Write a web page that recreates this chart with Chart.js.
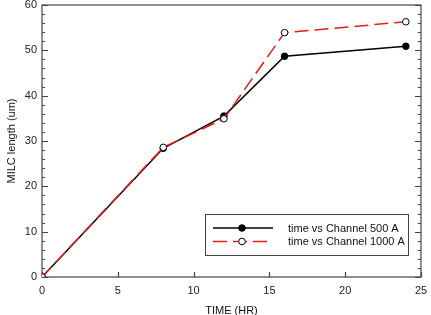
<!DOCTYPE html>
<html>
<head>
<meta charset="utf-8">
<script src="https://cdn.jsdelivr.net/npm/chart.js@4"></script>
<style>
  body { margin: 0; background: #fff; }
</style>
</head>
<body>
<canvas id="myChart" width="431" height="315"></canvas>
<script>
// data
const times = [0, 8, 12, 16, 24];
const ch500 = [0, 28.4, 35.5, 48.7, 50.9];
const ch1000 = [0, 28.6, 34.9, 53.9, 56.3];
const xTicks = [0, 5, 10, 15, 20, 25];
const yTicks = [0, 10, 20, 30, 40, 50, 60];

const ctx = document.getElementById('myChart').getContext('2d');
const font = 'Arial, "Liberation Sans", sans-serif';

function toPoints(xs, ys) {
    return xs.map((x, i) => ({ x: x, y: ys[i] }));
}

// inward ticks + frame, like the original plot
const frame = {
    id: 'frame',
    beforeDatasetsDraw(chart) {
        const c = chart.ctx, a = chart.chartArea;
        const xs = chart.scales.x, ys = chart.scales.y;
        c.save();
        c.strokeStyle = '#444';
        c.lineWidth = 1.2;
        c.strokeRect(a.left, a.top, a.right - a.left, a.bottom - a.top);
        c.beginPath();
        for (let v = 0; v <= 60; v += 2) {
            const y = Math.round(ys.getPixelForValue(v)) + 0.5;
            const len = v % 10 === 0 ? 6 : 3;
            c.moveTo(a.left, y); c.lineTo(a.left + len, y);
            c.moveTo(a.right, y); c.lineTo(a.right - len, y);
        }
        xTicks.forEach(v => {
            const x = Math.round(xs.getPixelForValue(v)) + 0.5;
            c.moveTo(x, a.bottom); c.lineTo(x, a.bottom - 5);
        });
        c.stroke();
        c.restore();
    }
};

// legend box inside the plot area
const boxLegend = {
    id: 'boxLegend',
    afterDraw(chart) {
        const c = chart.ctx, a = chart.chartArea;
        const w = 203, h = 41;
        const bx = a.right - 13 - w, by = a.bottom - 22 - h;
        c.save();
        c.fillStyle = '#fff';
        c.fillRect(bx, by, w, h);
        c.strokeStyle = '#444';
        c.lineWidth = 1;
        c.strokeRect(bx + 0.5, by + 0.5, w, h);
        [0, 1].forEach(i => {
            const ds = chart.data.datasets.find(d => d.legendIndex === i);
            const y = by + 14 + i * 13.5;
            c.strokeStyle = ds.borderColor;
            c.lineWidth = ds.borderWidth;
            c.setLineDash(ds.borderDash || []);
            c.beginPath();
            c.moveTo(bx + 8, y); c.lineTo(bx + 68, y);
            c.stroke();
            c.setLineDash([]);
            c.beginPath();
            c.arc(bx + 37, y, 3.3, 0, Math.PI * 2);
            c.fillStyle = ds.pointBackgroundColor;
            c.fill();
            c.lineWidth = 1;
            c.strokeStyle = ds.pointBorderColor;
            c.stroke();
            c.fillStyle = '#111';
            c.font = '11px ' + font;
            c.textBaseline = 'middle';
            c.fillText(ds.label, bx + 83, y + 0.5);
        });
        c.restore();
    }
};

const myChart = new Chart(ctx, {
    type: 'line',
    data: {
        datasets: [{
            label: 'time vs Channel 1000 A',
            legendIndex: 1,
            data: toPoints(times, ch1000),
            borderColor: '#e8191c',
            borderWidth: 1.5,
            borderDash: [14, 6],
            pointRadius: 3.3,
            pointBackgroundColor: '#fff',
            pointBorderColor: '#000',
            pointBorderWidth: 1
        }, {
            label: 'time vs Channel 500 A',
            legendIndex: 0,
            data: toPoints(times, ch500),
            borderColor: '#000',
            borderWidth: 1.5,
            pointRadius: 3.3,
            pointBackgroundColor: '#000',
            pointBorderColor: '#000',
            pointBorderWidth: 1
        }]
    },
    options: {
        responsive: false,
        animation: false,
        layout: { padding: { top: 5, right: 10, left: 0, bottom: 0 } },
        plugins: { legend: { display: false }, tooltip: { enabled: false } },
        scales: {
            x: {
                type: 'linear',
                min: 0, max: 25,
                afterBuildTicks: s => { s.ticks = xTicks.map(v => ({ value: v })); },
                afterFit: s => { s.height = 38; s.paddingLeft = 0; s.paddingRight = 0; },
                grid: { display: false, drawTicks: false },
                border: { display: false },
                ticks: { color: '#222', font: { family: font, size: 11 }, padding: 7, maxRotation: 0 },
                title: { display: true, text: 'TIME (HR)', color: '#111', font: { family: font, size: 11 }, padding: { top: 0, bottom: -3 } }
            },
            y: {
                min: 0, max: 60,
                afterBuildTicks: s => { s.ticks = yTicks.map(v => ({ value: v })); },
                afterFit: s => { s.width = 42; s.paddingTop = 0; s.paddingBottom = 0; },
                grid: { display: false, drawTicks: false },
                border: { display: false },
                ticks: { color: '#222', font: { family: font, size: 11 }, padding: 5 },
                title: { display: true, text: 'MILC length (um)', color: '#111', font: { family: font, size: 11 }, padding: { top: 5, bottom: 0 } }
            }
        }
    },
    plugins: [frame, boxLegend]
});
</script>
</body>
</html>
